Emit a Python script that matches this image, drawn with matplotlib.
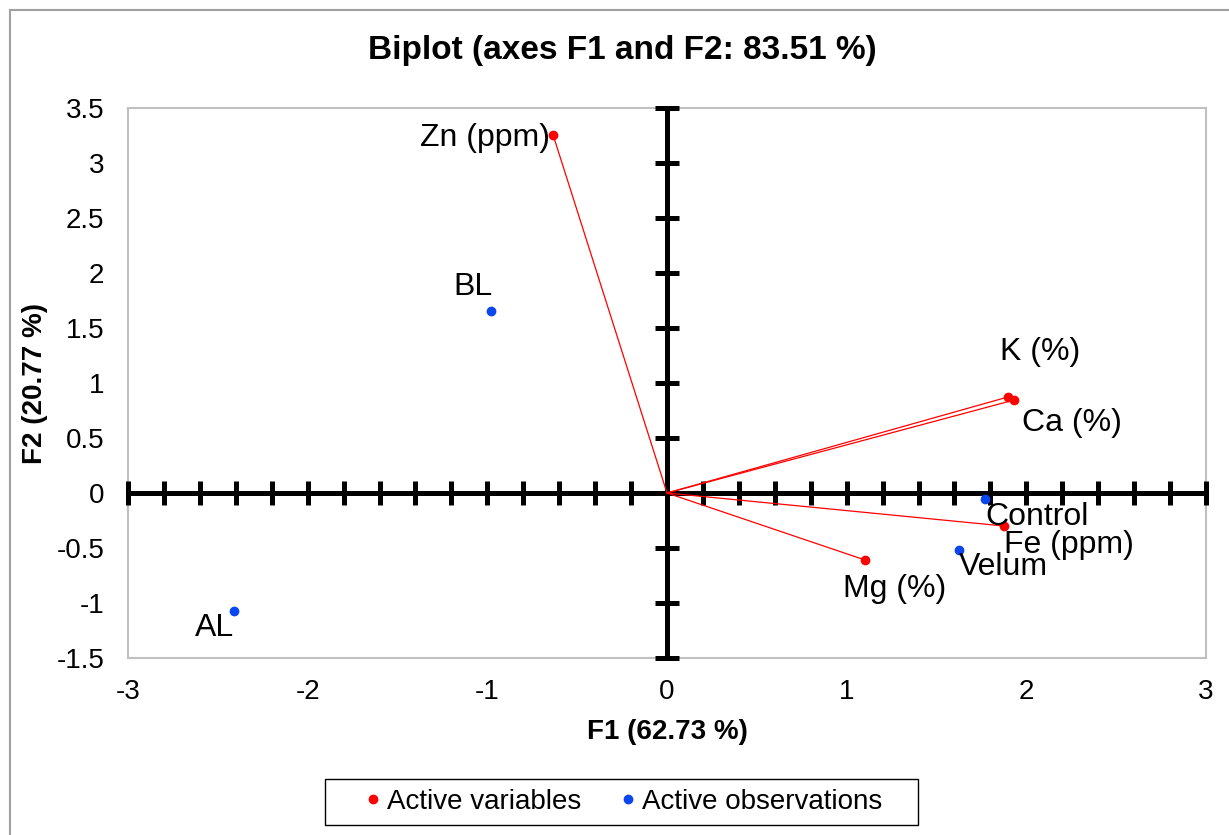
import numpy as np
import matplotlib
matplotlib.use("Agg")
from matplotlib import pyplot as plt
from matplotlib.lines import Line2D
from matplotlib.patches import Rectangle

plt.rcParams['font.family'] = ['Liberation Sans', 'DejaVu Sans']
plt.rcParams['axes.unicode_minus'] = False

# data
var_names = ["Zn (ppm)", "K (%)", "Ca (%)", "Fe (ppm)", "Mg (%)"]
var_x = [-0.634, 1.898, 1.931, 1.875, 1.102]
var_y = [3.255, 0.873, 0.845, -0.300, -0.609]

obs_names = ["BL", "AL", "Control", "Velum"]
obs_x = [-0.979, -2.410, 1.770, 1.625]
obs_y = [1.655, -1.073, -0.055, -0.518]

# label offsets in px (dx, dy), alignment
var_off = [(-3, -3, 'right', 'center'), (-8, 45, 'left', 'center'),
           (8, -23, 'left', 'center'), (0, -19, 'left', 'center'),
           (-22, -29, 'left', 'center')]
obs_off = [(-18, 24, 'center', 'center'), (0, -17, 'right', 'center'),
           (0, -18, 'left', 'center'), (0, -17, 'left', 'center')]

RED = '#ff0000'
BLUE = '#0a46f0'
px = 0.72  # points per pixel at dpi 100

fig = plt.figure(figsize=(12.29, 8.35), dpi=100)
ax = fig.add_axes([128/1229, 1 - 658/835, (1206 - 128)/1229, (658 - 108)/835])
ax.set_xlim(-3, 3)
ax.set_ylim(-1.5, 3.5)
ax.set_xticks(np.arange(-3, 3.1, 1))
ax.set_yticks(np.arange(-1.5, 3.6, 0.5))
ax.set_yticklabels([f"{v:g}" for v in np.arange(-1.5, 3.6, 0.5)])
ax.tick_params(length=0, labelsize=20)
ax.tick_params(axis='y', pad=17)
ax.tick_params(axis='x', pad=15)
for s in ax.spines.values():
    s.set_color('#c0c0c0')
    s.set_linewidth(1.5)

# zero axes with cross ticks
ax.axhline(0, color='black', lw=3.6, zorder=2.6)
ax.axvline(0, color='black', lw=3.6, zorder=2.6)
xt = np.arange(-3, 3.01, 0.2)
ax.plot(xt, np.zeros_like(xt), ls='none', marker='|', ms=17, mew=3.6,
        color='black', zorder=2.6, clip_on=False)
yt = np.arange(-1.5, 3.51, 0.5)
ax.plot(np.zeros_like(yt), yt, ls='none', marker='_', ms=17, mew=3.6,
        color='black', zorder=2.6, clip_on=False)

# vectors
for x, y in zip(var_x, var_y):
    ax.plot([0, x], [0, y], color=RED, lw=0.9, zorder=3)
ax.plot(var_x, var_y, ls='none', marker='o', ms=6, color=RED, zorder=4)
ax.plot(obs_x, obs_y, ls='none', marker='o', ms=6, color=BLUE, zorder=4)

for n, x, y, (dx, dy, ha, va) in zip(var_names, var_x, var_y, var_off):
    ax.annotate(n, (x, y), xytext=(dx*px, dy*px), textcoords='offset points',
                ha=ha, va=va, fontsize=23, zorder=5)
for n, x, y, (dx, dy, ha, va) in zip(obs_names, obs_x, obs_y, obs_off):
    ax.annotate(n, (x, y), xytext=(dx*px, dy*px), textcoords='offset points',
                ha=ha, va=va, fontsize=23, zorder=5)

fig.text(622/1229, 1 - 51/835, "Biplot (axes F1 and F2: 83.51 %)",
         ha='center', va='center', fontsize=24, fontweight='bold')
fig.text(667/1229, 1 - 732/835, "F1 (62.73 %)", ha='center', va='center',
         fontsize=20, fontweight='bold')
fig.text(35/1229, 1 - 383/835, "F2 (20.77 %)", ha='center', va='center',
         fontsize=20, fontweight='bold', rotation=90)

handles = [Line2D([], [], ls='none', marker='o', ms=6, color=RED),
           Line2D([], [], ls='none', marker='o', ms=6, color=BLUE)]
leg = fig.legend(handles, ["Active variables", "Active observations"],
                 loc='center left', bbox_to_anchor=(359/1229, 1 - 802/835),
                 ncol=2, fontsize=20, frameon=False, handlelength=1.0,
                 handletextpad=0.0, columnspacing=1.19, borderpad=0,
                 borderaxespad=0)
fig.add_artist(Rectangle((325/1229, 1 - 825/835), (918 - 325)/1229, 46/835,
                         transform=fig.transFigure, fill=False,
                         edgecolor='black', lw=1.0))

fig.add_artist(Rectangle((10/1229, -0.05), 1.1, 1 - 10/835 + 0.05,
                         transform=fig.transFigure, fill=False,
                         edgecolor='#a0a0a0', lw=1.5))

fig.savefig("out.png", dpi=100)
